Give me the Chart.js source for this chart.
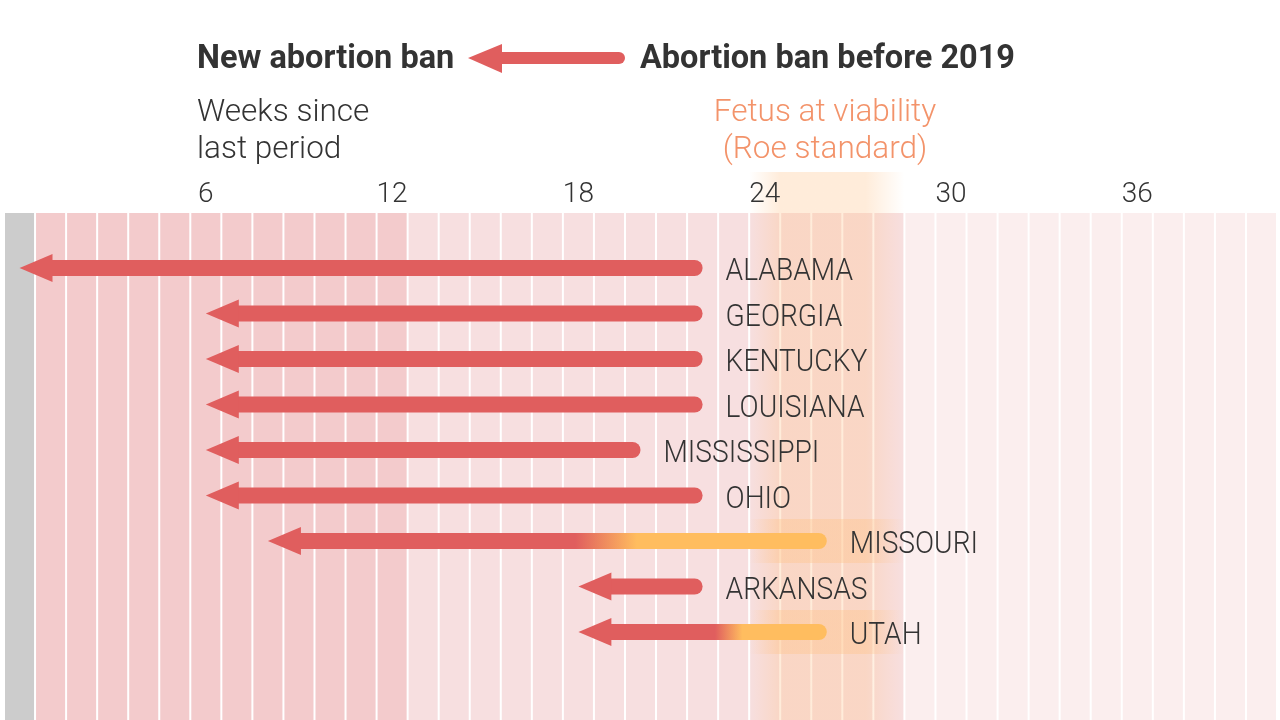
<!DOCTYPE html>
<html>
<head>
<meta charset="utf-8">
<script src="https://cdn.jsdelivr.net/npm/chart.js@4.4.1/dist/chart.umd.min.js"></script>
<style>
  html, body { margin: 0; padding: 0; background: #fff; }
  #wrap { position: relative; width: 1280px; height: 720px; overflow: hidden; }
  #chart { position: absolute; left: 0; top: 0; }
  .txt { position: absolute; font-family: Roboto, "Liberation Sans", sans-serif; color: #333; white-space: nowrap; }
  .head { font-size: 32.5px; font-weight: 700; line-height: 40px; top: 37px; }
  .sub { font-size: 31.5px; font-weight: 300; line-height: 37px; top: 92px; }
  #legendArrow { position: absolute; left: 0; top: 0; }
</style>
</head>
<body>
<div id="wrap">
  <canvas id="chart" width="1280" height="720"></canvas>
  <svg id="legendArrow" width="1280" height="100">
    <line x1="500" y1="58" x2="619" y2="58" stroke="#e05e5e" stroke-width="12" stroke-linecap="round"/>
    <polygon points="468,58 502,44 502,73" fill="#e05e5e"/>
  </svg>
  <div class="txt head" style="left:197px">New abortion ban</div>
  <div class="txt head" style="left:640px">Abortion ban before 2019</div>
  <div class="txt sub" style="left:197px">Weeks since<br>last period</div>
  <div class="txt sub" style="left:700px;width:250px;text-align:center;color:#f3936a">Fetus at viability<br>(Roe standard)</div>
</div>
<script>
// rows, top to bottom
const states = ['ALABAMA', 'GEORGIA', 'KENTUCKY', 'LOUISIANA', 'MISSISSIPPI', 'OHIO', 'MISSOURI', 'ARKANSAS', 'UTAH'];
// weeks since last period
const newBanWeeks = [0, 6, 6, 6, 6, 6, 8, 18, 18];
const oldBanWeeks = [22, 22, 22, 22, 20, 22, 26, 22, 26];
const oldBanAtViability = [false, false, false, false, false, false, true, false, true];

const tickWeeks = [6, 12, 18, 24, 30, 36];

// shaded week columns: first week, last week of each band
const bandFirstWeek = [0, 1, 13, 29];
const bandLastWeek = [0, 12, 28, 40];
const bandColors = ['#cccccc', '#f3cbcc', '#f7dfe0', '#fbeeee'];

const viabilityWeeks = [24, 28];

const RED = '#e05e5e';
const ORANGE = '#ffbd5f';
const HEAD_LEN = 33;
const HEAD_HALF = 14;
const SHAFT = 16;

function viabilityGradient(ctx, x, alpha) {
  const x0 = x.getPixelForValue(viabilityWeeks[0] - 0.5);
  const x1 = x.getPixelForValue(viabilityWeeks[1] + 0.5);
  const g = ctx.createLinearGradient(x0, 0, x1, 0);
  g.addColorStop(0, 'rgba(255,196,140,0)');
  g.addColorStop(0.2, 'rgba(255,196,140,' + alpha + ')');
  g.addColorStop(0.75, 'rgba(255,196,140,' + alpha + ')');
  g.addColorStop(1, 'rgba(255,196,140,0)');
  return { g, x0, x1 };
}

const backdrop = {
  id: 'backdrop',
  beforeDraw(chart) {
    const { ctx, chartArea } = chart;
    const x = chart.scales.x;
    const y = chart.scales.y;
    ctx.save();
    ctx.fillStyle = '#fff';
    ctx.fillRect(0, 0, chart.width, chart.height);

    // one column per week
    bandFirstWeek.forEach((first, b) => {
      ctx.fillStyle = bandColors[b];
      for (let w = first; w <= bandLastWeek[b]; w++) {
        const l = x.getPixelForValue(w - 0.5);
        const r = x.getPixelForValue(w + 0.5);
        ctx.fillRect(l + 1, chartArea.top, r - l - 2, chartArea.bottom - chartArea.top);
      }
    });

    // viability band, runs up behind the tick labels
    const band = viabilityGradient(ctx, x, 0.32);
    ctx.fillStyle = band.g;
    ctx.fillRect(band.x0, chartArea.top - 41, band.x1 - band.x0, chartArea.bottom - chartArea.top + 41);

    // rows where the old ban was at viability
    const hl = viabilityGradient(ctx, x, 0.4);
    ctx.fillStyle = hl.g;
    states.forEach((s, i) => {
      if (!oldBanAtViability[i]) return;
      const cy = y.getPixelForValue(i);
      ctx.fillRect(hl.x0, cy - 22, hl.x1 - hl.x0, 44);
    });
    ctx.restore();
  }
};

const arrows = {
  id: 'arrows',
  afterDatasetsDraw(chart) {
    const { ctx } = chart;
    const x = chart.scales.x;
    const y = chart.scales.y;
    ctx.save();
    states.forEach((name, i) => {
      const tip = x.getPixelForValue(newBanWeeks[i]);
      const end = x.getPixelForValue(oldBanWeeks[i]);
      const cy = y.getPixelForValue(i);
      let paint = RED;
      if (oldBanAtViability[i]) {
        paint = ctx.createLinearGradient(tip, 0, end, 0);
        paint.addColorStop(0.55, RED);
        paint.addColorStop(0.66, ORANGE);
      }
      ctx.strokeStyle = paint;
      ctx.lineWidth = SHAFT;
      ctx.lineCap = 'round';
      ctx.beginPath();
      ctx.moveTo(tip + HEAD_LEN - 4, cy);
      ctx.lineTo(end - SHAFT / 2, cy);
      ctx.stroke();

      ctx.fillStyle = paint;
      ctx.beginPath();
      ctx.moveTo(tip, cy);
      ctx.lineTo(tip + HEAD_LEN, cy - HEAD_HALF);
      ctx.lineTo(tip + HEAD_LEN, cy + HEAD_HALF);
      ctx.closePath();
      ctx.fill();

      // narrow light label: Roboto Light squeezed horizontally
      ctx.save();
      ctx.translate(end + 23, cy + 12);
      ctx.scale(0.88, 1);
      ctx.fillStyle = '#333';
      ctx.font = '300 32px Roboto, sans-serif';
      ctx.textBaseline = 'alphabetic';
      ctx.fillText(name, 0, 0);
      ctx.restore();
    });
    ctx.restore();
  }
};

new Chart(document.getElementById('chart'), {
  type: 'scatter',
  data: {
    datasets: [
      { label: 'New abortion ban', data: states.map((s, i) => ({ x: newBanWeeks[i], y: i })), pointRadius: 0 },
      { label: 'Abortion ban before 2019', data: states.map((s, i) => ({ x: oldBanWeeks[i], y: i })), pointRadius: 0 }
    ]
  },
  options: {
    responsive: false,
    animation: false,
    events: [],
    layout: { padding: { left: 4, right: 3, top: 0, bottom: 0 } },
    plugins: { legend: { display: false }, tooltip: { enabled: false } },
    scales: {
      x: {
        type: 'linear',
        position: 'top',
        min: -0.5,
        max: 40.5,
        grid: { display: false, drawTicks: false },
        border: { display: false },
        afterBuildTicks: s => { s.ticks = tickWeeks.map(v => ({ value: v })); },
        afterFit: s => { s.height = 213; },
        ticks: {
          padding: 1,
          maxRotation: 0,
          color: '#333',
          font: { family: 'Roboto', size: 28, weight: '300' }
        }
      },
      y: {
        type: 'linear',
        reverse: true,
        min: -1.2088,
        max: 9.934,
        display: false
      }
    }
  },
  plugins: [backdrop, arrows]
});
</script>
</body>
</html>
